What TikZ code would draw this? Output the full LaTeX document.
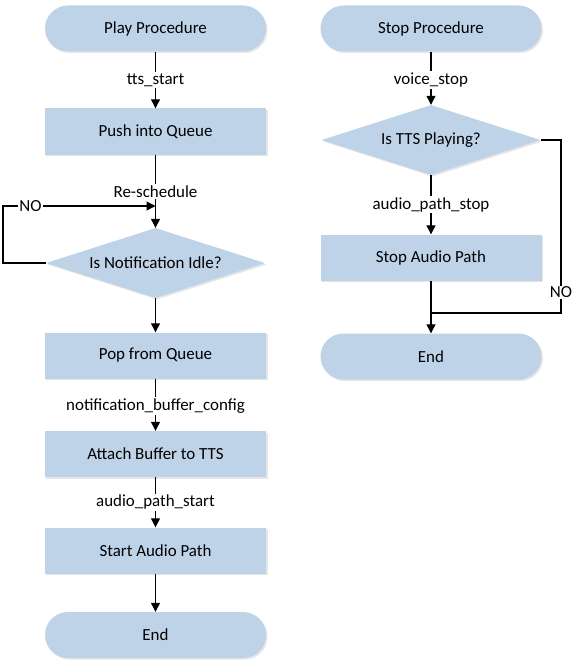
\documentclass[tikz,border=0pt]{standalone}
\usepackage{fontspec}
\setmainfont{Carlito}
\usetikzlibrary{shapes.geometric,arrows.meta,shadows}
\definecolor{boxfill}{RGB}{190,211,232}
\begin{document}
\begin{tikzpicture}[x=1bp,y=-1bp,
  font=\fontsize{17}{20}\selectfont,
  base/.style={fill=boxfill,draw=none,minimum width=221bp,minimum height=46bp,inner sep=0pt,
    drop shadow={shadow xshift=1.5bp,shadow yshift=-1.5bp,fill=black,opacity=0.10}},
  term/.style={base,rounded corners=23bp},
  proc/.style={base},
  decis/.style={diamond,fill=boxfill,draw=none,minimum width=219bp,minimum height=70bp,inner sep=0pt,aspect=3.13,
    drop shadow={shadow xshift=1.5bp,shadow yshift=-1.5bp,fill=black,opacity=0.10}},
  arr/.style={line width=1.2bp,-{Triangle[length=9bp,width=9bp]}},
  ln/.style={line width=1.2bp},
  lbl/.style={fill=white,inner sep=1.5bp}]
\useasboundingbox (0,0) rectangle (583,671);
% left column
\node[term]  (play)   at (155.5,28.5)  {Play Procedure};
\node[proc]  (push)   at (155.5,131.5) {Push into Queue};
\node[decis] (idle)   at (155.5,263)   {Is Notification Idle?};
\node[proc]  (pop)    at (155.5,355.5) {Pop from Queue};
\node[proc]  (attach) at (155.5,454)   {Attach Buffer to TTS};
\node[proc]  (start)  at (155.5,550.5) {Start Audio Path};
\node[term]  (endA)   at (155.5,635)   {End};
% right column
\node[term]  (stop)   at (431,28.5)    {Stop Procedure};
\node[decis] (play2)  at (431,140)     {Is TTS Playing?};
\node[proc]  (saudio) at (431,257.5)   {Stop Audio Path};
\node[term]  (endB)   at (431,356.5)   {End};
% connectors left
\draw[arr] (play) -- node[lbl,pos=0.5] {tts\_start} (push);
\draw[arr] (push) -- node[lbl,pos=0.5] {Re-schedule} (idle);
\coordinate (nl1) at (3,263);
\coordinate (nl2) at (3,206);
\coordinate (nl3) at (155.5,206);
\draw[arr] (idle.west) -- (nl1) -- (nl2) -- node[lbl,pos=0.18,inner sep=1bp] {NO} (nl3);
\draw[arr] (idle) -- (pop);
\draw[arr] (pop) -- node[lbl,pos=0.53] {notification\_buffer\_config} (attach);
\draw[arr] (attach) -- node[lbl,pos=0.5] {audio\_path\_start} (start);
\draw[arr] (start) -- (endA);
% connectors right
\draw[arr] (stop) -- node[lbl,pos=0.53] {voice\_stop} (play2);
\draw[arr] (play2) -- node[lbl,pos=0.5] {audio\_path\_stop} (saudio);
\coordinate (nr1) at (561,140);
\coordinate (nr2) at (561,313);
\coordinate (mrg) at (431,313);
\draw[ln] (play2.east) -- (nr1) -- node[lbl,pos=0.88,inner sep=1bp] {NO} (nr2) -- (mrg);
\draw[arr] (saudio) -- (endB);
\end{tikzpicture}
\end{document}
